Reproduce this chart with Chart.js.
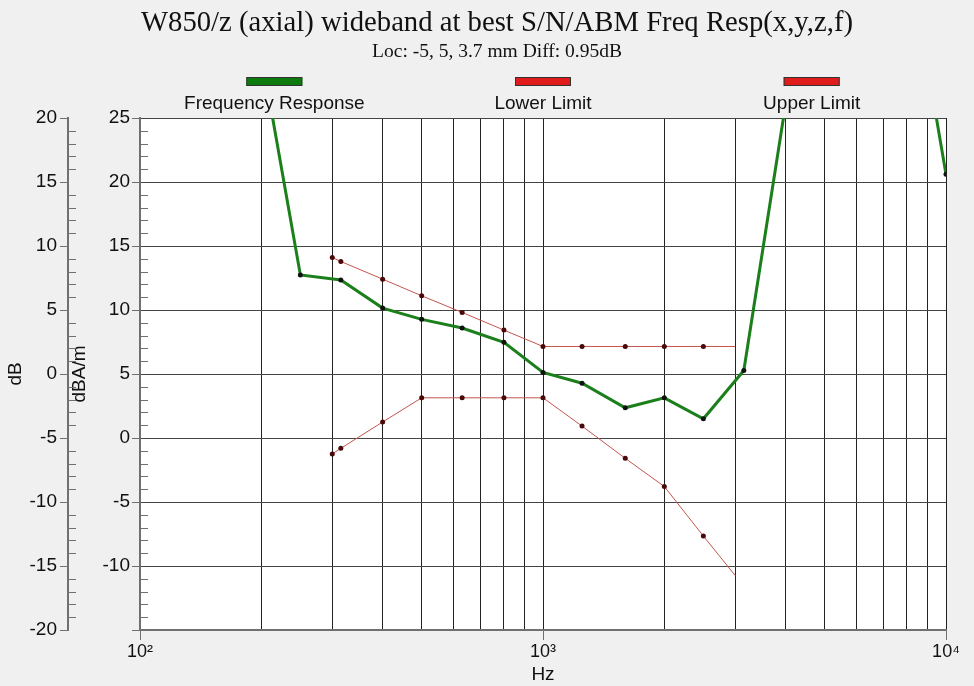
<!DOCTYPE html>
<html>
<head>
<meta charset="utf-8">
<title>W850/z Freq Resp</title>
<script src="https://cdn.jsdelivr.net/npm/chart.js@4.4.0/dist/chart.umd.min.js"></script>
<style>
  html, body { margin: 0; padding: 0; background: #f0f0f0; }
  #wrap { width: 974px; height: 686px; }
</style>
</head>
<body>
<div id="wrap"><canvas id="respChart" width="974" height="686"></canvas></div>
<script>
// Vertical grid lines (Hz) and the decade labels under the x axis
const gridFreqs = [100, 200, 300, 400, 500, 600, 700, 800, 900, 1000, 2000, 3000, 4000, 5000, 6000, 7000, 8000, 9000, 10000];
const decadeLabels = { 100: '10²', 1000: '10³', 10000: '10⁴' };

const respHz = [200, 250, 315, 400, 500, 630, 800, 1000, 1250, 1600, 2000, 2500, 3150, 4000, 5000, 6300, 8000, 10000];
const respLevel = [30.0, 12.74, 12.35, 10.15, 9.27, 8.59, 7.48, 5.12, 4.28, 2.36, 3.14, 1.5, 5.27, 26.1, 36, 40, 38.5, 20.6];

// Tolerance limits (dBA/m scale)
const limitHz = [300, 315, 400, 500, 630, 800, 1000, 1250, 1600, 2000, 2500, 3000];
const lowerLevel = [-1.25, -0.81, 1.25, 3.14, 3.14, 3.14, 3.14, 0.93, -1.59, -3.79, -7.66, -10.75];
const upperLevel = [14.1, 13.79, 12.41, 11.11, 9.81, 8.43, 7.15, 7.15, 7.15, 7.15, 7.15, 7.15];

const titleText = 'W850/z (axial) wideband at best S/N/ABM Freq Resp(x,y,z,f)';
const subtitleText = 'Loc: -5, 5, 3.7 mm Diff: 0.95dB';

const axisGray = '#707070';
const sansFont = '"Liberation Sans", Arial, sans-serif';

function toPoints(xs, ys) {
    return xs.map((x, i) => ({ x: x, y: ys[i] }));
}

// white plot area
const plotBackground = {
    id: 'plotBackground',
    beforeDraw(chart) {
        const { ctx, chartArea: a } = chart;
        ctx.save();
        ctx.fillStyle = '#ffffff';
        ctx.fillRect(a.left, a.top, a.right - a.left, a.bottom - a.top);
        ctx.restore();
    }
};

// title, subtitle and the box-over-text legend
const header = {
    id: 'header',
    afterDraw(chart) {
        const { ctx, chartArea: a } = chart;
        ctx.save();
        ctx.fillStyle = '#111';
        ctx.textAlign = 'center';
        ctx.textBaseline = 'alphabetic';
        ctx.font = '28.7px "Liberation Serif", "Times New Roman", serif';
        ctx.fillText(titleText, 497, 31);
        ctx.font = '19.5px "Liberation Serif", "Times New Roman", serif';
        ctx.fillText(subtitleText, 497, 57);

        const sets = chart.data.datasets;
        const slot = (a.right - a.left) / sets.length;
        sets.forEach((ds, i) => {
            const cx = a.left + slot * (i + 0.5);
            ctx.fillStyle = ds.legendColor;
            ctx.fillRect(cx - 28, 77, 56, 9);
            ctx.strokeStyle = '#333';
            ctx.lineWidth = 1;
            ctx.strokeRect(cx - 27.5, 77.5, 55, 8);
            ctx.fillStyle = '#111';
            ctx.font = '19px ' + sansFont;
            ctx.textBaseline = 'middle';
            ctx.fillText(ds.label, cx, 104);
            ctx.textBaseline = 'alphabetic';
        });
        ctx.restore();
    }
};

// 1-unit minor ticks on the right side of both y axes
const minorTicks = {
    id: 'minorTicks',
    afterDraw(chart) {
        const { ctx } = chart;
        ctx.save();
        ctx.strokeStyle = axisGray;
        ctx.lineWidth = 1;
        ['yDb', 'y'].forEach(id => {
            const s = chart.scales[id];
            for (let v = Math.ceil(s.min); v <= s.max; v++) {
                if (v % 5 === 0) continue;
                const py = Math.round(s.getPixelForValue(v)) + 0.5;
                ctx.beginPath();
                ctx.moveTo(s.right, py);
                ctx.lineTo(s.right + 8, py);
                ctx.stroke();
            }
        });
        ctx.restore();
    }
};

const ctx = document.getElementById('respChart').getContext('2d');
new Chart(ctx, {
    type: 'line',
    data: {
        datasets: [{
            label: 'Frequency Response',
            data: toPoints(respHz, respLevel),
            borderColor: '#1b7f1b',
            legendColor: '#0c7a0c',
            borderWidth: 3,
            pointRadius: 2.5,
            pointBackgroundColor: '#111',
            pointBorderWidth: 0,
            tension: 0
        }, {
            label: 'Lower Limit',
            data: toPoints(limitHz, lowerLevel),
            borderColor: '#c4564f',
            legendColor: '#e01b1b',
            borderWidth: 1,
            pointRadius: c => c.dataIndex === limitHz.length - 1 ? 0 : 2.5,
            pointBackgroundColor: '#4a0808',
            pointBorderWidth: 0,
            tension: 0
        }, {
            label: 'Upper Limit',
            data: toPoints(limitHz, upperLevel),
            borderColor: '#c4564f',
            legendColor: '#e01b1b',
            borderWidth: 1,
            pointRadius: c => c.dataIndex === limitHz.length - 1 ? 0 : 2.5,
            pointBackgroundColor: '#4a0808',
            pointBorderWidth: 0,
            tension: 0
        }]
    },
    options: {
        responsive: false,
        animation: false,
        devicePixelRatio: 1,
        layout: { padding: { top: 118, right: 28, left: 0, bottom: 0 } },
        plugins: {
            legend: { display: false },
            tooltip: { enabled: false },
            title: { display: false }
        },
        scales: {
            x: {
                type: 'logarithmic',
                min: 100,
                max: 10000,
                afterBuildTicks: scale => {
                    scale.ticks = gridFreqs.map(v => ({ value: v, major: v in decadeLabels }));
                },
                afterFit: scale => { scale.height = 56; },
                ticks: {
                    autoSkip: false,
                    maxRotation: 0,
                    minRotation: 0,
                    padding: 1,
                    color: '#111',
                    font: { family: sansFont, size: 18 },
                    callback: value => decadeLabels[value] || ''
                },
                grid: {
                    color: '#222',
                    lineWidth: 1,
                    tickLength: 10,
                    tickColor: c => (c.tick && decadeLabels[c.tick.value]) ? axisGray : 'rgba(0,0,0,0)'
                },
                border: { display: true, color: axisGray, width: 2 },
                title: {
                    display: true,
                    text: 'Hz',
                    color: '#111',
                    font: { family: sansFont, size: 19 },
                    padding: { top: 0, bottom: 0 }
                }
            },
            y: {
                type: 'linear',
                position: 'left',
                weight: 0,
                min: -15,
                max: 25,
                afterFit: scale => { scale.width = 72; },
                ticks: {
                    stepSize: 5,
                    padding: 2,
                    color: '#111',
                    font: { family: sansFont, size: 19 },
                    // the bottom edge carries no label
                    callback: (value, index) => index === 0 ? '' : value
                },
                grid: { color: '#444', lineWidth: 1, tickLength: 8, tickColor: axisGray },
                border: { display: true, color: axisGray, width: 2 },
                title: {
                    display: true,
                    text: 'dBA/m',
                    color: '#111',
                    font: { family: sansFont, size: 19 },
                    padding: { top: 0, bottom: 0 }
                }
            },
            yDb: {
                type: 'linear',
                axis: 'y',
                position: 'left',
                weight: 1,
                min: -20,
                max: 20,
                afterFit: scale => { scale.width = 68; },
                ticks: {
                    stepSize: 5,
                    padding: 3,
                    color: '#111',
                    font: { family: sansFont, size: 19 }
                },
                grid: { drawOnChartArea: false, tickLength: 8, tickColor: axisGray },
                border: { display: true, color: axisGray, width: 2 },
                title: {
                    display: true,
                    text: 'dB',
                    color: '#111',
                    font: { family: sansFont, size: 19 },
                    padding: { top: 4, bottom: 0 }
                }
            }
        }
    },
    plugins: [plotBackground, minorTicks, header]
});
</script>
</body>
</html>
